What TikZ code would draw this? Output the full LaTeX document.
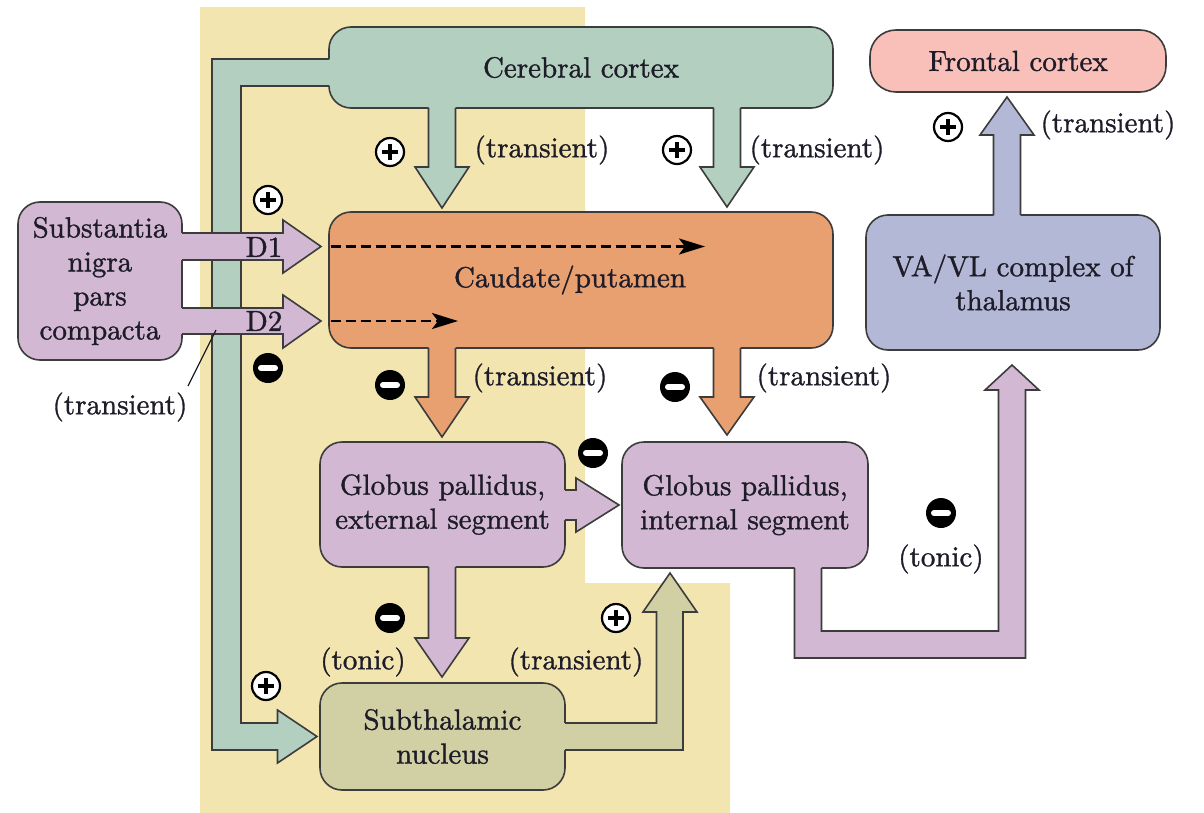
\documentclass[tikz,border=0pt]{standalone}
\usepackage{fontspec}
\setmainfont{lmroman10-regular.otf}[RawFeature={embolden=1.2}]
\usetikzlibrary{arrows.meta}
\definecolor{bgy}{RGB}{242,229,176}
\definecolor{cgreen}{RGB}{179,207,192}
\definecolor{corange}{RGB}{232,160,112}
\definecolor{cpurple}{RGB}{210,184,210}
\definecolor{cpink}{RGB}{248,192,184}
\definecolor{cblue}{RGB}{179,184,214}
\definecolor{colive}{RGB}{208,208,164}
\definecolor{edgec}{RGB}{60,60,60}
\definecolor{txt}{RGB}{30,28,40}
\tikzset{
 edge/.style={draw=edgec, line width=0.8pt},
 box/.style={edge, rounded corners=11pt, inner sep=0pt, align=center, text=txt, font=\fontsize{14.5}{17}\selectfont},
 lbl/.style={text=txt, font=\fontsize{14.5}{17}\selectfont, inner sep=0pt},
 plusc/.style={circle, draw=black, line width=1.1pt, fill=white, minimum size=14pt, inner sep=0pt,
   path picture={\draw[black, line width=2.4pt] ([xshift=-4pt]path picture bounding box.center) -- ([xshift=4pt]path picture bounding box.center);
                 \draw[black, line width=2.4pt] ([yshift=-4pt]path picture bounding box.center) -- ([yshift=4pt]path picture bounding box.center);}},
 minusc/.style={circle, fill=black, minimum size=15pt, inner sep=0pt,
   path picture={\draw[white, line width=3pt, line cap=round] ([xshift=-3.5pt]path picture bounding box.center) -- ([xshift=3.5pt]path picture bounding box.center);}},
 dashedarrow/.style={black, line width=1.3pt, dash pattern=on 5pt off 2.5pt, -{Stealth[length=13pt,width=8pt,inset=3pt]}},
}
% vertical fat arrow: colour, centre x, start y, head base y, tip y, overlap y
\newcommand\vfat[6]{%
 \fill[#1] ({#2-13.5},#6) -- ({#2-13.5},#4) -- ({#2-27},#4) -- (#2,#5) -- ({#2+27},#4) -- ({#2+13.5},#4) -- ({#2+13.5},#6) -- cycle;
 \draw[edge] ({#2-13.5},#3) -- ({#2-13.5},#4) -- ({#2-27},#4) -- (#2,#5) -- ({#2+27},#4) -- ({#2+13.5},#4) -- ({#2+13.5},#3);}
\begin{document}
\begin{tikzpicture}[x=0.5pt,y=-0.5pt]
\useasboundingbox (0,0) rectangle (1204,813);
% yellow background
\fill[bgy] (200,7) -- (585,7) -- (585,583) -- (730,583) -- (730,813) -- (200,813) -- cycle;

% cerebral cortex
\node[box, fill=cgreen, minimum width=252pt, minimum height=40.5pt] (cc) at (581,67.5) {Cerebral cortex};
\fill[cgreen] (331,59) -- (212,59) -- (212,750) -- (277.5,750) -- (277.5,763) -- (317,736.5) -- (277.5,710) -- (277.5,723) -- (241,723) -- (241,86) -- (331,86) -- cycle;
\draw[edge] (329.4,59) -- (212,59) -- (212,750) -- (277.5,750) -- (277.5,763) -- (317,736.5) -- (277.5,710) -- (277.5,723) -- (241,723) -- (241,86) -- (329.4,86);
\vfat{cgreen}{442}{108}{167}{208}{106}
\vfat{cgreen}{727}{108}{167}{207}{106}

% caudate / putamen
\node[box, fill=corange, minimum width=252pt, minimum height=68pt] (cp) at (581,280) {Caudate/putamen\hspace*{11pt}};
\vfat{corange}{442}{348}{397}{437}{346}
\vfat{corange}{727}{348}{397}{435}{346}
\draw[dashedarrow] (330.5,246.5) -- (705,246.5);
\draw[dashedarrow] (330.5,321) -- (458,321);

% substantia nigra
\node[box, fill=cpurple, minimum width=82pt, minimum height=79pt] (sn) at (100,281) {Substantia\\nigra\\pars\\compacta};
\fill[cpurple] (180,233) -- (283,233) -- (283,220) -- (321,246.5) -- (283,273) -- (283,260) -- (180,260) -- cycle;
\draw[edge] (182,233) -- (283,233) -- (283,220) -- (321,246.5) -- (283,273) -- (283,260) -- (182,260);
\fill[cpurple] (180,308) -- (283,308) -- (283,295) -- (321,321) -- (283,348) -- (283,334) -- (180,334) -- cycle;
\draw[edge] (182,308) -- (283,308) -- (283,295) -- (321,321) -- (283,348) -- (283,334) -- (182,334);
\node[lbl] (d1) at (264,247) {D1};
\node[lbl] (d2) at (264,321) {D2};

% frontal cortex and thalamus
\node[box, fill=cpink, rounded corners=13pt, minimum width=148pt, minimum height=31pt] (fc) at (1018,61) {Frontal cortex};
\node[box, fill=cblue, minimum width=147pt, minimum height=67.5pt] (va) at (1013,282.5) {VA/VL complex of\\thalamus};
\vfat{cblue}{1007}{215}{135}{97}{217}

% globus pallidus
\node[box, fill=cpurple, minimum width=122.5pt, minimum height=62.5pt] (gpe) at (442.5,504.5) {Globus pallidus,\\external segment};
\node[box, fill=cpurple, minimum width=123pt, minimum height=63pt] (gpi) at (745,505) {Globus pallidus,\\internal segment};
\fill[cpurple] (563,490) -- (576,490) -- (576,478) -- (619,505) -- (576,532) -- (576,520) -- (563,520) -- cycle;
\draw[edge] (565,490) -- (576,490) -- (576,478) -- (619,505) -- (576,532) -- (576,520) -- (565,520);
\vfat{cpurple}{442}{567}{638}{677}{565}
\fill[cpurple] (794.5,566) -- (794.5,658) -- (1025.5,658) -- (1025.5,390) -- (1039,390) -- (1012,365) -- (985,390) -- (998.5,390) -- (998.5,631) -- (821.5,631) -- (821.5,566) -- cycle;
\draw[edge] (794.5,568) -- (794.5,658) -- (1025.5,658) -- (1025.5,390) -- (1039,390) -- (1012,365) -- (985,390) -- (998.5,390) -- (998.5,631) -- (821.5,631) -- (821.5,568);

% subthalamic nucleus
\node[box, fill=colive, minimum width=122.5pt, minimum height=53.5pt] (stn) at (442.5,736.5) {Subthalamic\\nucleus};
\fill[colive] (563,750) -- (683,750) -- (683,612) -- (697,612) -- (670,573) -- (643,612) -- (656.5,612) -- (656.5,723) -- (563,723) -- cycle;
\draw[edge] (565,750) -- (683,750) -- (683,612) -- (697,612) -- (670,573) -- (643,612) -- (656.5,612) -- (656.5,723) -- (565,723);

% labels
\node[lbl] (t1) at (542,150) {(transient)};
\node[lbl] (t2) at (817,150) {(transient)};
\node[lbl] (t3) at (540,378) {(transient)};
\node[lbl] (t4) at (824,378) {(transient)};
\node[lbl] (t5) at (1108,125) {(transient)};
\node[lbl] (t6) at (576,662) {(transient)};
\node[lbl] (t7) at (120,407) {(transient)};
\node[lbl] (o1) at (363,662) {(tonic)};
\node[lbl] (o2) at (941,559) {(tonic)};
\coordinate (lead) at (216,330);
\draw[txt, line width=0.6pt] (188,386) -- (lead);

% signs
\node[plusc] (p1) at (390,152) {};
\node[plusc] (p2) at (677,150) {};
\node[plusc] (p3) at (268,200) {};
\node[plusc] (p4) at (948,127) {};
\node[plusc] (p5) at (616,618) {};
\node[plusc] (p6) at (266,686) {};
\node[minusc] (m1) at (268,368) {};
\node[minusc] (m2) at (390,385) {};
\node[minusc] (m3) at (675,387) {};
\node[minusc] (m4) at (593,453) {};
\node[minusc] (m5) at (390,618) {};
\node[minusc] (m6) at (941,513) {};
\end{tikzpicture}
\end{document}
